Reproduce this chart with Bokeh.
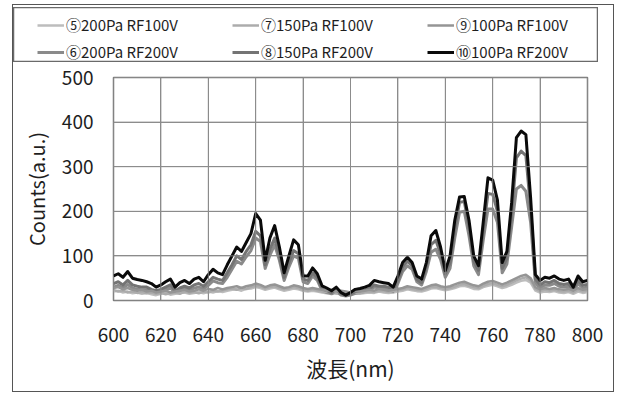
from bokeh.plotting import figure
from bokeh.models import Legend, LegendItem, FixedTicker, Range1d
from bokeh.layouts import column
from bokeh.embed import file_html
from bokeh.resources import INLINE

wavelength = list(range(600, 802, 2))

s5_200Pa_RF100V = [
    20, 22, 18, 20, 16, 18, 15, 17, 14, 12,
    15, 17, 13, 15, 17, 18, 15, 17, 19, 16,
    20, 18, 21, 19, 22, 24, 25, 22, 26, 27,
    30, 28, 24, 27, 29, 25, 22, 24, 27, 25,
    22, 20, 22, 20, 18, 16, 18, 15, 16, 14,
    13, 16, 15, 17, 18, 17, 20, 18, 17, 18,
    20, 22, 25, 23, 21, 20, 23, 27, 28, 25,
    23, 25, 28, 32, 33, 30, 26, 25, 30, 33,
    35, 32, 28, 31, 35, 40, 44, 46, 40, 22,
    18, 20, 19, 21, 18, 17, 19, 15, 20, 17,
    19]

s6_200Pa_RF200V = [
    30, 34, 28, 36, 28, 25, 24, 24, 20, 18,
    20, 24, 28, 18, 22, 26, 22, 28, 30, 26,
    34, 44, 40, 38, 52, 70, 88, 82, 98, 112,
    140, 132, 72, 102, 125, 90, 45, 75, 100, 95,
    42, 38, 55, 45, 22, 18, 15, 20, 12, 10,
    12, 16, 18, 20, 22, 30, 28, 27, 25, 20,
    38, 65, 78, 70, 42, 35, 65, 108, 115, 92,
    52, 72, 140, 198, 200, 145, 78, 58, 135, 205,
    205, 175, 62, 82, 165, 250, 258, 245, 175, 40,
    28, 35, 34, 38, 32, 30, 32, 20, 38, 28,
    30]

s7_150Pa_RF100V = [
    24, 20, 22, 18, 20, 17, 19, 16, 18, 15,
    17, 14, 16, 18, 15, 20, 17, 19, 16, 20,
    18, 22, 20, 23, 25, 27, 24, 28, 26, 30,
    33, 31, 27, 30, 32, 28, 25, 27, 30, 28,
    24, 22, 25, 22, 20, 19, 20, 17, 19, 16,
    15, 18, 17, 19, 20, 19, 22, 21, 19, 21,
    23, 25, 28, 26, 24, 23, 26, 30, 31, 28,
    26, 28, 31, 35, 37, 33, 30, 28, 33, 37,
    39, 35, 32, 35, 40, 45, 49, 52, 45, 26,
    21, 24, 22, 24, 21, 20, 22, 18, 24, 20,
    22]

s8_150Pa_RF200V = [
    38, 42, 35, 45, 35, 32, 30, 30, 25, 22,
    25, 30, 35, 22, 28, 32, 28, 35, 38, 32,
    42, 52, 48, 45, 62, 80, 100, 92, 110, 125,
    155, 145, 80, 115, 140, 100, 52, 85, 112, 105,
    48, 45, 62, 52, 26, 22, 18, 24, 15, 12,
    14, 20, 22, 24, 27, 35, 32, 32, 30, 25,
    45, 75, 88, 78, 47, 40, 75, 125, 135, 105,
    60, 85, 160, 220, 222, 165, 88, 68, 155, 240,
    238, 200, 72, 95, 195, 320, 335, 325, 205, 48,
    35, 42, 40, 45, 38, 36, 38, 24, 45, 34,
    36]

s9_100Pa_RF100V = [
    28, 30, 25, 28, 24, 22, 24, 20, 22, 18,
    20, 22, 18, 20, 22, 24, 20, 22, 25, 22,
    26, 24, 28, 25, 28, 30, 32, 28, 32, 34,
    38, 35, 30, 34, 36, 32, 28, 30, 34, 32,
    28, 26, 28, 26, 24, 22, 24, 20, 22, 20,
    18, 22, 20, 22, 24, 22, 26, 24, 22, 24,
    26, 28, 32, 30, 28, 26, 30, 34, 36, 32,
    30, 32, 36, 40, 42, 38, 34, 32, 38, 42,
    44, 40, 36, 40, 45, 50, 55, 58, 50, 30,
    25, 28, 26, 28, 25, 24, 26, 22, 28, 24,
    26]

s10_100Pa_RF200V = [
    55, 60, 52, 65, 50, 47, 45, 42, 38, 30,
    35, 42, 48, 30, 40, 45, 38, 48, 52, 42,
    58, 70, 62, 58, 80, 100, 120, 110, 130, 150,
    195, 180, 90, 140, 168, 120, 62, 100, 136, 125,
    55, 55, 73, 60, 33, 28, 22, 30, 18, 12,
    18, 25, 27, 30, 34, 45, 42, 40, 38, 30,
    55, 85, 97, 85, 55, 48, 85, 145, 157, 120,
    67, 100, 180, 232, 233, 180, 100, 78, 175, 275,
    270, 225, 85, 110, 220, 365, 380, 372, 230, 58,
    45, 52, 50, 55, 48, 45, 48, 30, 55, 42,
    45]

labels = ["⑤200Pa RF100V", "⑥200Pa RF200V", "⑦150Pa RF100V",
          "⑧150Pa RF200V", "⑨100Pa RF100V", "⑩100Pa RF200V"]
series = [s5_200Pa_RF100V, s6_200Pa_RF200V, s7_150Pa_RF100V,
          s8_150Pa_RF200V, s9_100Pa_RF100V, s10_100Pa_RF200V]
colors = ["#bdbdbd", "#8a8a8a", "#acacac", "#747474", "#959595", "#0a0a0a"]
widths = [2.5, 3, 2.5, 3, 2.5, 3]

x_ticks = [600, 620, 640, 660, 680, 700, 720, 740, 760, 780, 800]
y_ticks = [0, 100, 200, 300, 400, 500]

FONT = "Noto Sans CJK JP"
TXT = "#1e1e1e"
GRID = "#8c8c8c"

# ---- legend strip (its frame outline is the legend box) ----
lg = figure(width=585, height=55, output_backend="svg", toolbar_location=None,
            x_range=Range1d(0, 1), y_range=Range1d(0, 1),
            min_border_left=0, min_border_right=0, min_border_top=0, min_border_bottom=0,
            x_axis_location=None, y_axis_location=None, margin=(2, 0, 0, 0))
lg.frame_align = False
lg.grid.visible = False
lg.outline_line_color = "#6a6a6a"
lg.outline_line_width = 1.5
lg.background_fill_color = "white"
lg.border_fill_color = "white"
lg_renderers = [lg.line(wavelength, ys, line_color=c, line_width=w)
                for ys, c, w in zip(series, colors, widths)]

legend = Legend(items=[LegendItem(label=lab, renderers=[r]) for lab, r in zip(labels, lg_renderers)],
                location=(24, 0), orientation="vertical", nrows=2,
                padding=3, margin=0, spacing=6, glyph_width=27, glyph_height=20,
                label_height=20, label_width=160, label_standoff=2,
                label_text_font=FONT, label_text_font_size="15px",
                label_text_color=TXT, border_line_color=None,
                background_fill_alpha=0)
lg.add_layout(legend, "center")

# ---- main chart ----
p = figure(width=600, height=329, output_backend="svg", toolbar_location=None,
           x_range=Range1d(600, 800), y_range=Range1d(0, 500),
           min_border_left=100, min_border_right=26,
           min_border_top=15, min_border_bottom=91)
p.frame_align = False
p.background_fill_color = "white"
p.border_fill_color = "white"
p.outline_line_color = "#7a7a7a"
p.outline_line_width = 1.5

for ax in (p.xaxis, p.yaxis):
    ax.axis_line_color = None
    ax.major_tick_line_color = None
    ax.minor_tick_line_color = None
    ax.major_tick_out = 0
    ax.major_label_text_font = FONT
    ax.major_label_text_color = TXT
    ax.major_label_text_font_size = "19px"
    ax.axis_label_text_font = FONT
    ax.axis_label_text_color = TXT
    ax.axis_label_text_font_style = "normal"

p.xaxis.ticker = FixedTicker(ticks=x_ticks)
p.yaxis.ticker = FixedTicker(ticks=y_ticks)
p.xaxis.major_label_standoff = 27
p.yaxis.major_label_standoff = 20
p.xaxis.axis_label = "波長(nm)"
p.yaxis.axis_label = "Counts(a.u.)"
p.xaxis.axis_label_text_font_size = "21px"
p.yaxis.axis_label_text_font_size = "20px"
p.xaxis.axis_label_standoff = 8
p.yaxis.axis_label_standoff = 8

for g, t in ((p.xgrid, x_ticks), (p.ygrid, y_ticks)):
    g.ticker = FixedTicker(ticks=t)
    g.grid_line_color = GRID
    g.grid_line_width = 1.0

for ys, c, w in zip(series, colors, widths):
    p.line(wavelength, ys, line_color=c, line_width=w, line_join="round")

# grid also as glyph paths drawn over the data (turns lie on the frame edges)
xr, yr = p.x_range, p.y_range
gx, gy = [], []
for i, t in enumerate(x_ticks):
    gx += [t, t]
    gy += [yr.start, yr.end] if i % 2 == 0 else [yr.end, yr.start]
p.line(gx, gy, line_color=GRID, line_width=1.0, line_alpha=0.9)
hx, hy = [], []
for i, t in enumerate(y_ticks):
    hy += [t, t]
    hx += [xr.start, xr.end] if i % 2 == 0 else [xr.end, xr.start]
p.line(hx, hy, line_color=GRID, line_width=1.0, line_alpha=0.9)

layout = column(lg, p, spacing=0, margin=(4, 0, 0, 12),
                styles={"border": "1.5px solid #555555", "background-color": "white"})

open("out.html", "w").write(file_html(layout, INLINE))
